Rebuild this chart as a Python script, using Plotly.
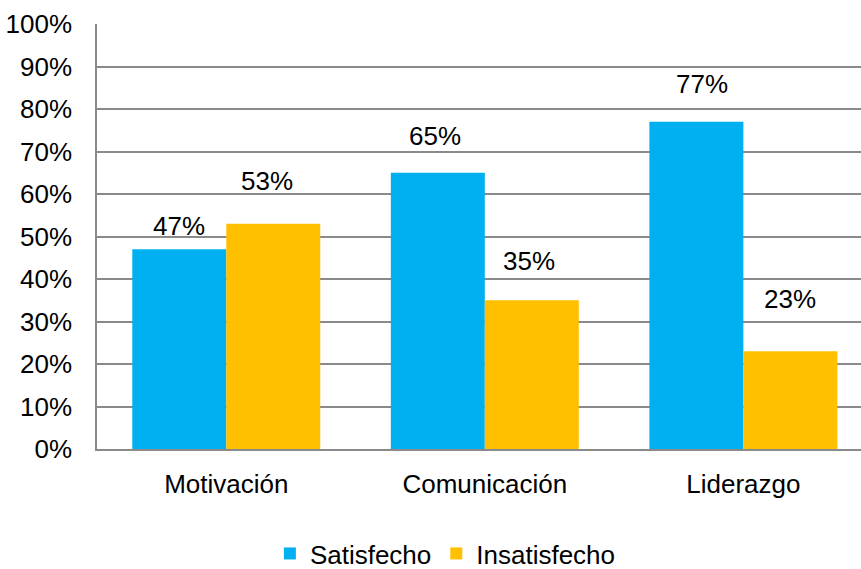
import plotly.graph_objects as go

# Survey results by dimension (percent of respondents)
categories = ["Motivación", "Comunicación", "Liderazgo"]
satisfecho = [47, 65, 77]
insatisfecho = [53, 35, 23]
series_names = ["Satisfecho", "Insatisfecho"]
y_ticks = list(range(0, 101, 10))

BLUE = "#00B0F0"
GOLD = "#FFC000"
GRID = "#8A8A8A"
FONT = "Liberation Sans, Arial, sans-serif"
FS = 26

fig = go.Figure()
fig.add_trace(go.Bar(x=categories, y=satisfecho, name=series_names[0],
                     marker=dict(color=BLUE, line=dict(width=0))))
fig.add_trace(go.Bar(x=categories, y=insatisfecho, name=series_names[1],
                     marker=dict(color=GOLD, line=dict(width=0))))

# Value labels placed above each bar (pixel nudges per label)
half_bar = 47
sat_shift = [(0, 23), (-3, 37), (6, 38)]
ins_shift = [(-6, 43), (-3, 39), (0, 52)]
for i, cat in enumerate(categories):
    for val, sign, (dx, dy) in ((satisfecho[i], -1, sat_shift[i]),
                                (insatisfecho[i], 1, ins_shift[i])):
        fig.add_annotation(x=cat, y=val, text=f"{val}%", showarrow=False,
                           xshift=sign * half_bar + dx, yshift=dy,
                           yanchor="middle", xanchor="center",
                           font=dict(family=FONT, size=FS, color="#000"))

fig.update_layout(
    width=861, height=569, autosize=False,
    margin=dict(l=97, r=0, t=24, b=120, autoexpand=False),
    paper_bgcolor="white", plot_bgcolor="white",
    barmode="group", bargap=0.273, bargroupgap=0,
    font=dict(family=FONT, size=FS, color="#000"),
    showlegend=True,
    legend=dict(orientation="h", x=0.456, xanchor="center", y=-0.246, yanchor="middle",
                font=dict(family=FONT, size=FS, color="#000"),
                itemwidth=30, traceorder="normal"),
)
fig.update_xaxes(type="category", range=[-0.5, 2.455], showgrid=False,
                 showline=True, linecolor=GRID, linewidth=1.5,
                 ticks="", ticklabelstandoff=11,
                 tickfont=dict(family=FONT, size=FS, color="#000"))
fig.update_yaxes(range=[0, 100], tickvals=y_ticks, ticktext=[f"{v}%" for v in y_ticks],
                 showgrid=True, gridcolor=GRID, gridwidth=1.5,
                 showline=True, linecolor=GRID, linewidth=1.5,
                 zeroline=False, ticks="", ticklabelstandoff=18,
                 tickfont=dict(family=FONT, size=FS, color="#000"))

fig.write_html("out.html")
